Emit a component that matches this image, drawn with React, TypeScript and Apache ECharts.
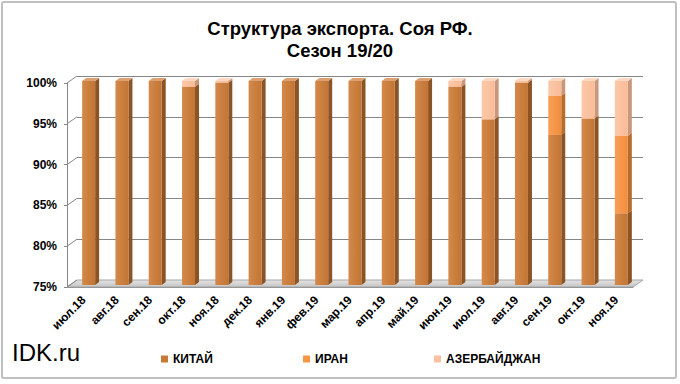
import React, { useEffect, useRef } from "react";
import * as echarts from "echarts";

const categories = ["июл.18", "авг.18", "сен.18", "окт.18", "ноя.18", "дек.18", "янв.19", "фев.19", "мар.19", "апр.19", "май.19", "июн.19", "июл.19", "авг.19", "сен.19", "окт.19", "ноя.19"];
const china = [100, 100, 100, 99.3, 99.8, 100, 100, 100, 100, 100, 100, 99.3, 95.3, 99.8, 93.4, 95.4, 83.8];
const iran = [0, 0, 0, 0, 0, 0, 0, 0, 0, 0, 0, 0, 0, 0, 4.8, 0, 9.5];
const azer = [0, 0, 0, 0.7, 0.2, 0, 0, 0, 0, 0, 0, 0.7, 4.7, 0.2, 1.8, 4.6, 6.7];
const seriesNames = ["КИТАЙ", "ИРАН", "АЗЕРБАЙДЖАН"];
const yMin = 75;
const yMax = 100;
const yStep = 5;
const yTicks = [75, 80, 85, 90, 95, 100];

const FONT = "'Liberation Sans', Arial, sans-serif";
const DX = 10; // wall depth x
const DY = -7; // wall depth y

const palettes = [
  { front: ["#D4894A", "#C27534"], side: "#8C5424", top: "#DDA071", legend: "#C77A38" },
  { front: ["#FA9E55", "#F08E3E"], side: "#B86C2E", top: "#FBBA88", legend: "#F79646" },
  { front: ["#FCC8A8", "#F9BC98"], side: "#C8987C", top: "#FDD9C4", legend: "#FAC09F" },
];

function makeBar(pal: any) {
  return (params: any, api: any) => {
    const i = api.value(0);
    const base = api.value(1);
    const top = api.value(2);
    if (top - base <= 0) return null;
    const p0 = api.coord([i, Math.max(base, yMin)]);
    const p1 = api.coord([i, top]);
    const bw = api.size([1, 0])[0];
    const fw = bw * 0.39;
    const cx = p0[0] + bw * 0.15;
    const l = cx - fw / 2;
    const r = cx + fw / 2;
    const yb = p0[1] - 2;
    const yt = p1[1] - 2;
    const ddx = 4;
    const ddy = -3;
    return {
      type: "group",
      children: [
        {
          type: "polygon",
          shape: { points: [[r, yt], [r + ddx, yt + ddy], [r + ddx, yb + ddy], [r, yb]] },
          style: { fill: pal.side },
        },
        {
          type: "rect",
          shape: { x: l, y: yt, width: fw, height: yb - yt },
          style: {
            fill: new echarts.graphic.LinearGradient(0, 0, 1, 0, [
              { offset: 0, color: pal.front[0] },
              { offset: 1, color: pal.front[1] },
            ]),
          },
        },
        {
          type: "polygon",
          shape: { points: [[l, yt], [r, yt], [r + ddx, yt + ddy], [l + ddx, yt + ddy]] },
          style: { fill: pal.top },
        },
      ],
    };
  };
}

export default function App() {
  const ref = useRef<HTMLDivElement>(null);
  useEffect(() => {
    if (!ref.current) return;
    const chart = echarts.init(ref.current, null, { renderer: "svg" });
    const stacks = [china, iran, azer];
    const barSeries = stacks.map((vals, s) => {
      const data = vals.map((v, i) => {
        let base = 0;
        for (let k = 0; k < s; k++) base += stacks[k][i];
        return [i, base, base + v];
      });
      return {
        type: "custom",
        name: seriesNames[s],
        xAxisIndex: 0,
        yAxisIndex: 0,
        clip: false,
        itemStyle: { color: palettes[s].legend },
        encode: { x: 0, y: [1, 2] },
        renderItem: makeBar(palettes[s]),
        data,
        z: 5,
      };
    });

    const option: any = {
      animation: false,
      backgroundColor: "#fff",
      title: {
        text: "Структура экспорта. Соя РФ.\nСезон 19/20",
        left: "center",
        top: 12,
        textStyle: { fontFamily: FONT, fontWeight: "bold", fontSize: 18.5, lineHeight: 22, color: "#000" },
      },
      legend: seriesNames.map((n, k) => ({
        data: [n],
        left: [156, 298, 429][k],
        top: 348,
        itemWidth: 7,
        itemHeight: 7,
        itemGap: 4,
        icon: "rect",
        textStyle: { fontFamily: FONT, fontWeight: "bold", fontSize: 12, color: "#000" },
        selectedMode: false,
      })),
      grid: [
        { left: 67, right: 47, top: 83, bottom: 97 },
        { left: 67 + DX, right: 47 - DX, top: 83 + DY, bottom: 97 - DY },
      ],
      xAxis: [
        {
          type: "category",
          gridIndex: 0,
          data: categories,
          axisLine: { lineStyle: { color: "#868686" } },
          axisTick: { length: 4, lineStyle: { color: "#868686" } },
          axisLabel: {
            rotate: 45,
            interval: 0,
            margin: 11,
            fontFamily: FONT,
            fontWeight: "bold",
            fontSize: 12,
            color: "#000",
          },
        },
        {
          type: "category",
          gridIndex: 1,
          data: categories,
          show: false,
        },
      ],
      yAxis: [
        {
          type: "value",
          gridIndex: 0,
          min: yMin,
          max: yMax,
          interval: yStep,
          axisLine: { show: true, lineStyle: { color: "#868686" } },
          axisTick: { show: true, length: 3, lineStyle: { color: "#868686" } },
          splitLine: { show: false },
          axisLabel: {
            formatter: (v: number) => v + "%",
            fontFamily: FONT,
            fontWeight: "bold",
            fontSize: 12,
            color: "#000",
            margin: 10,
          },
        },
        {
          type: "value",
          gridIndex: 1,
          min: yMin,
          max: yMax,
          interval: yStep,
          axisLine: { show: false },
          axisTick: { show: false },
          axisLabel: { show: false },
          splitLine: { show: true, lineStyle: { color: "#868686", width: 1 } },
        },
      ],
      graphic: [
        {
          type: "rect",
          shape: { x: 2, y: 2, width: 674, height: 376, r: 2 },
          style: { fill: "none", stroke: "#BFBFBF", lineWidth: 2 },
          z: 100,
        },
        {
          type: "text",
          left: 12,
          top: 340,
          style: { text: "IDK.ru", fontFamily: FONT, fontSize: 24, fill: "#000" },
        },
      ],
      series: [
        {
          type: "custom",
          name: "walls",
          xAxisIndex: 0,
          yAxisIndex: 0,
          clip: false,
          silent: true,
          z: 1,
          encode: { x: 0, y: 1 },
          data: yTicks.map((t) => [0, t]),
          renderItem: (params: any, api: any) => {
            const cs = params.coordSys;
            const t = api.value(1);
            const y = api.coord([0, t])[1];
            const children: any[] = [
              {
                type: "line",
                shape: { x1: cs.x, y1: y, x2: cs.x + DX, y2: y + DY },
                style: { stroke: "#868686", lineWidth: 1 },
              },
            ];
            if (t === yMin) {
              const yb = cs.y + cs.height;
              children.unshift({
                type: "polygon",
                shape: {
                  points: [
                    [cs.x, yb],
                    [cs.x + cs.width, yb],
                    [cs.x + cs.width + DX, yb + DY],
                    [cs.x + DX, yb + DY],
                  ],
                },
                style: {
                  fill: new echarts.graphic.LinearGradient(0, 0, 0, 1, [
                    { offset: 0, color: "#E4E4E4" },
                    { offset: 1, color: "#C4C4C4" },
                  ]),
                  stroke: "#A6A6A6",
                  lineWidth: 1,
                },
              });
            }
            return { type: "group", children };
          },
        },
        ...barSeries,
      ],
    };
    chart.setOption(option);
    return () => chart.dispose();
  }, []);
  return (
    <div
      ref={ref}
      style={{ position: "fixed", left: 0, top: 0, width: 680, height: 384, background: "#fff" }}
    />
  );
}
